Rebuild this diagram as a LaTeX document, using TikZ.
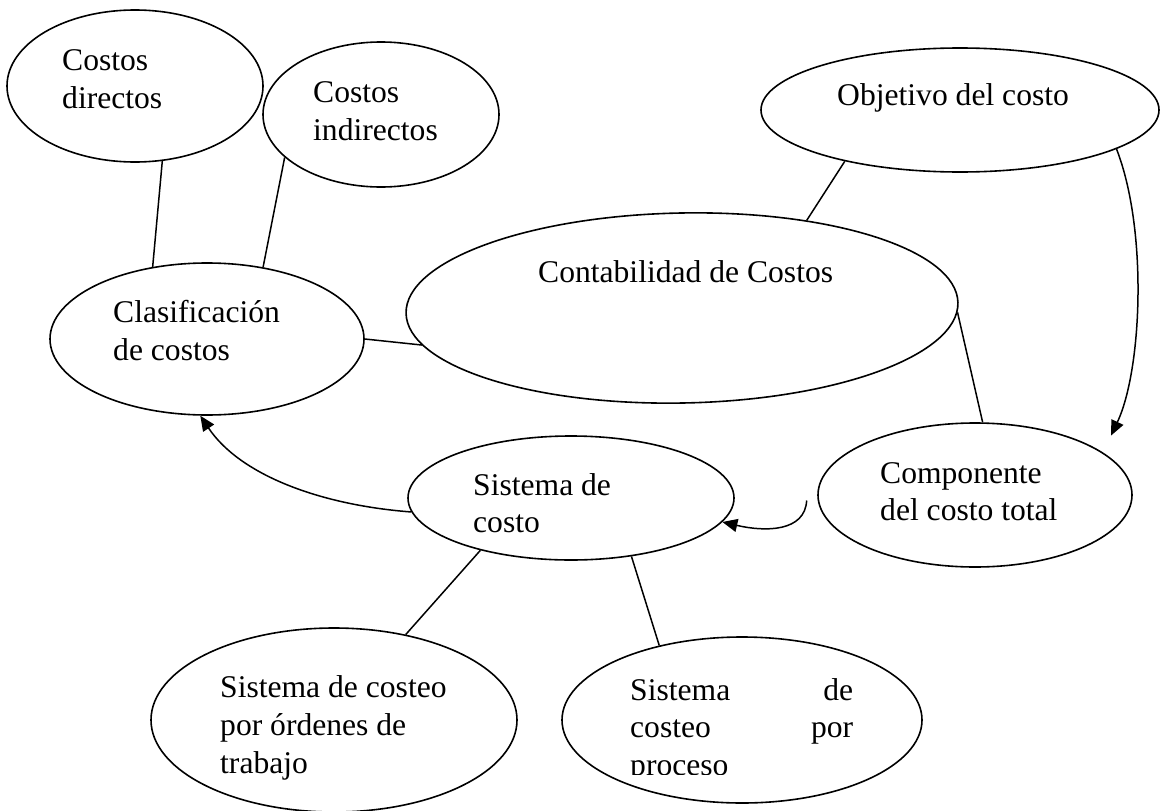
\documentclass[tikz,border=0pt]{standalone}
\usepackage{fontspec}
\setmainfont{Liberation Serif}
\usetikzlibrary{arrows.meta,shapes.geometric}
\begin{document}
\begin{tikzpicture}[x=1pt,y=-1pt,
  ell/.style={draw, ellipse, line width=1.6pt, inner sep=0pt},
  lbl/.style={anchor=base west, inner sep=0pt, font=\fontsize{31.6pt}{38pt}\selectfont},
  conn/.style={line width=1.5pt},
  arr/.style={line width=1.5pt, -{Triangle[length=15pt,width=13pt]}}]
\fill[white] (0,0) rectangle (1162,811);
\useasboundingbox (0,0) rectangle (1162,811);

% ellipses
\node[ell, minimum width=256pt, minimum height=152pt] (dir) at (135,86) {};
\node[ell, minimum width=236pt, minimum height=145pt] (ind) at (381,114.5) {};
\node[ell, minimum width=398pt, minimum height=124pt] (obj) at (960,110) {};
\node[ell, minimum width=552pt, minimum height=190pt, rotate=1.1] (cont) at (682,308) {};
\node[ell, minimum width=314pt, minimum height=152pt] (clas) at (207,339) {};
\node[ell, minimum width=326pt, minimum height=124pt] (sis) at (571,498) {};
\node[ell, minimum width=314pt, minimum height=144pt] (comp) at (975,495) {};
\node[ell, minimum width=366pt, minimum height=184pt] (ord) at (334,720) {};
\node[ell, minimum width=360pt, minimum height=166pt] (proc) at (742,720) {};

% labels
\node[lbl] (tdir1) at (62,70) {Costos};
\node[lbl] (tdir2) at (62,108) {directos};
\node[lbl] (tind1) at (313,102) {Costos};
\node[lbl] (tind2) at (313,140) {indirectos};
\node[lbl] (tobj) at (837,105) {Objetivo del costo};
\node[lbl] (tcont) at (538,282) {Contabilidad de Costos};
\node[lbl] (tclas1) at (113,322) {Clasificación};
\node[lbl] (tclas2) at (113,360) {de costos};
\node[lbl] (tsis1) at (473,495) {Sistema de};
\node[lbl] (tsis2) at (473,532) {costo};
\node[lbl] (tcomp1) at (880,483) {Componente};
\node[lbl] (tcomp2) at (880,520) {del costo total};
\node[lbl] (tord1) at (220,697) {Sistema de costeo};
\node[lbl] (tord2) at (220,735) {por órdenes de};
\node[lbl] (tord3) at (220,773) {trabajo};
\node[lbl] (tproc1) at (630,700) {\makebox[223pt][l]{Sistema\hfill de}};
\node[lbl] (tproc2) at (630,737.5) {\makebox[223pt][l]{costeo\hfill por}};
\begin{scope}
  \clip (600,745) rectangle (880,774);
  \node[lbl] (tproc3) at (630,775) {proceso};
\end{scope}

% plain connectors
\draw[conn] (dir.-70) -- (clas.127);
\draw[conn] (ind.204) -- (clas.52);
\draw[conn] (clas.0) -- (cont.187);
\draw[conn] (obj.204) -- (cont.34);
\draw[conn] (cont.-2) -- (comp.84);
\draw[conn] (sis.210) -- (ord.50);
\draw[conn] (sis.-44) -- (proc.138);

% arrows
\draw[arr] (obj.-14) .. controls (1148,230) and (1142,370) .. ([xshift=2pt,yshift=21pt]comp.16);
\draw[arr] ([xshift=-11pt]comp.182) .. controls (805,532) and (765,532) .. (sis.-9);
\draw[arr] (sis.185) .. controls (320,505) and (240,475) .. (clas.-95);
\end{tikzpicture}
\end{document}
